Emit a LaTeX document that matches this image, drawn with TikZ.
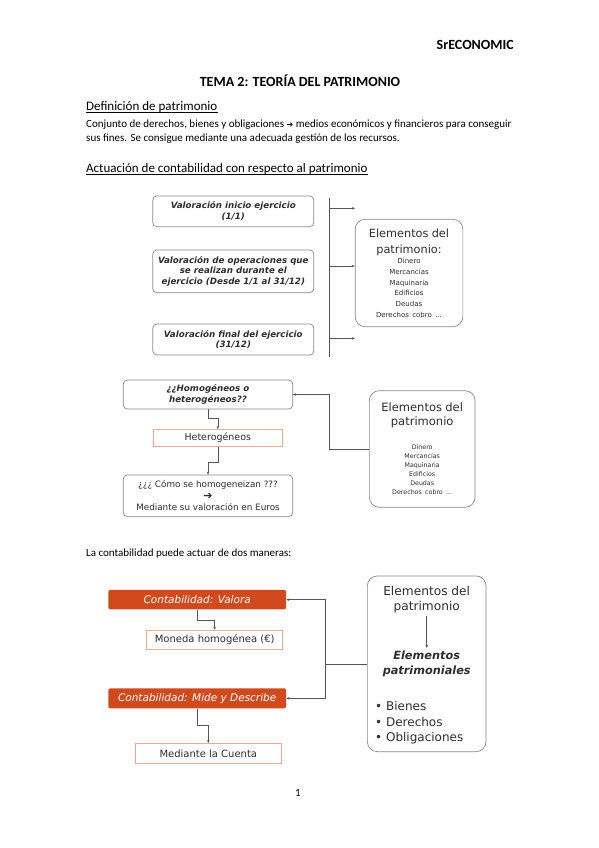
\documentclass[tikz,border=0pt]{standalone}
\usepackage{fontspec}
\setmainfont{Carlito}
\newfontfamily\diafont{DejaVu Sans}[ItalicFont={DejaVu Sans Oblique},BoldItalicFont={DejaVu Sans Bold Oblique}]
\usetikzlibrary{arrows.meta,calc}
\definecolor{lineg}{HTML}{555555}
\definecolor{boxg}{HTML}{8A8A8A}
\definecolor{txtg}{HTML}{2E2E2E}
\definecolor{naranja}{HTML}{D14A1D}
\definecolor{salmon}{HTML}{EBAA95}
\newcommand{\fs}[2]{\fontsize{#1}{#2}\selectfont}
\begin{document}
\begin{tikzpicture}[x=1pt,y=-1pt,
  txt/.style={inner sep=0pt,text=black},
  conn/.style={draw=lineg,line width=0.6pt},
  tip/.style={-{Stealth[length=3pt,width=2.5pt]}},
  vbox/.style={draw=boxg,line width=0.7pt,rounded corners=4pt,fill=white,text=txtg,align=center,inner sep=0pt,minimum width=161pt,font=\diafont\bfseries\itshape\fs{8.7}{10.5}},
  ebox/.style={draw=boxg,line width=0.7pt,rounded corners=10pt,fill=white,text=txtg,inner sep=0pt,align=center,font=\diafont},
  pbox/.style={draw=salmon,line width=0.6pt,fill=white,text=txtg,inner sep=0pt,font=\diafont\fs{10}{12}},
  obox/.style={fill=naranja,rounded corners=2pt,text=white,inner sep=0pt,minimum width=177.7pt,minimum height=19.5pt,font=\diafont\itshape\fs{10.5}{12}},
  ]
\useasboundingbox[fill=white] (0,0) rectangle (599,848);
% page text
\node[txt,anchor=base east,font=\bfseries\fs{14}{16}] (marca) at (514,50) {SrECONOMIC};
\node[txt,anchor=base,font=\bfseries\fs{14}{16}] (tema) at (300,87) {TEMA 2: TEORÍA DEL PATRIMONIO};
\node[txt,anchor=base west,font=\fs{13}{15}] (def) at (86,110.5) {Definición de patrimonio};
\draw[line width=0.5pt] ($(def.base west)+(0,2)$) -- ($(def.base east)+(0,2)$);
\node[txt,anchor=base west,font=\fs{11}{13}] (cuerpo1) at (86,127.5) {Conjunto de derechos, bienes y obligaciones {\diafont\fs{8}{8}➔} medios económicos y financieros para conseguir};
\node[txt,anchor=base west,font=\fs{11}{13}] (cuerpo2) at (86,142) {sus fines. Se consigue mediante una adecuada gestión de los recursos.};
\node[txt,anchor=base west,font=\fs{13}{15}] (act) at (86,172) {Actuación de contabilidad con respecto al patrimonio};
\draw[line width=0.5pt] ($(act.base west)+(0,2)$) -- ($(act.base east)+(0,2)$);
\node[txt,anchor=base west,font=\fs{11}{13}] (dos) at (86,556) {La contabilidad puede actuar de dos maneras:};
\node[txt,anchor=base,font=\fs{11}{13}] (pag) at (298,796) {1};
% diagrama 1
\node[vbox,minimum height=30.7pt] (v1) at (233.3,211.3) {Valoración inicio ejercicio\\(1/1)};
\node[vbox,minimum height=42.7pt] (v2) at (233.3,271.3) {Valoración de operaciones que\\se realizan durante el\\ejercicio (Desde 1/1 al 31/12)};
\node[vbox,minimum height=31pt] (v3) at (233.3,339.5) {Valoración final del ejercicio\\(31/12)};
\node[ebox,minimum width=107.7pt,minimum height=107.4pt,text width=107.7pt] (el1) at (409,273)
  {{\fs{11.3}{16}Elementos del\\patrimonio:\par}{\fs{7}{10.7}Dinero\\Mercancías\\Maquinaria\\Edificios\\Deudas\\Derechos cobro ...\par}};
\coordinate (bt) at (329,197.5);
\coordinate (bb) at (329,356.5);
\draw[conn] (bt) -- (bb);
\coordinate (s1) at (329,208.3);
\coordinate (s2) at (329,266);
\coordinate (s3) at (329,338.3);
\draw[conn,tip] (s1) -- ++(26,0);
\draw[conn,tip] (s2) -- (s2 -| el1.west);
\draw[conn,tip] (s3) -- ++(26,0);
% diagrama 2
\node[vbox,minimum width=169.4pt,minimum height=29pt] (hg) at (208,394.5) {¿¿Homogéneos o\\heterogéneos??};
\node[pbox,minimum width=129pt,minimum height=17.4pt,font=\diafont\fs{9.5}{11}] (het) at (217.8,438) {Heterogéneos};
\node[vbox,minimum width=169.4pt,minimum height=41.7pt,align=center,font=\diafont\fs{8.8}{11.7}] (hm) at (208,495.8) {¿¿¿ Cómo se homogeneizan ???\\{\fs{11}{11.7}➔}\\Mediante su valoración en Euros};
\node[ebox,minimum width=105.7pt,minimum height=116.6pt,text width=105.7pt] (el2) at (422.2,449)
  {{\fs{11.5}{13.5}Elementos del\\patrimonio\par}\vspace{15.6pt}{\fs{6.3}{9}Dinero\\Mercancías\\Maquinaria\\Edificios\\Deudas\\Derechos cobro ...\par}};
\draw[conn,tip] (hg.south) -- ++(0,8.7) -| (het.north);
\draw[conn,tip] (het.south) -- ++(0,15.6) -| (hm.north);
\draw[conn,tip] (el2.west) -- ++(-39.3,0) |- (hg.east);
% diagrama 3
\node[obox] (val) at (197.2,599.7) {Contabilidad: Valora};
\node[pbox,minimum width=136pt,minimum height=19pt] (mon) at (214.7,639.5) {Moneda homogénea (€)};
\node[obox,minimum height=20pt] (mid) at (197.2,698.3) {Contabilidad: Mide y Describe};
\node[pbox,minimum width=146.7pt,minimum height=20pt] (cue) at (208.3,753.3) {Mediante la Cuenta};
\node[ebox,minimum width=118.7pt,minimum height=175.7pt] (el3) at (426.7,663.8) {};
\node[txt,text=txtg,align=center,font=\diafont\fs{12.2}{15}] (el3a) at (426.7,600) {Elementos del\\patrimonio};
\node[txt,text=txtg,align=center,font=\diafont\bfseries\itshape\fs{11.3}{15}] (el3b) at (426.7,664) {Elementos\\patrimoniales};
\node[txt,text=txtg,align=left,anchor=north west,font=\diafont\fs{12}{15.8}] (el3c) at (375,701) {• Bienes\\• Derechos\\• Obligaciones};
\draw[conn,tip] (el3a.south) ++(0,2) -- ($(el3b.north)+(0,-3)$);
\draw[conn,tip] (val.south) -- ++(0,10.7) -| (mon.north);
\draw[conn,tip] (mid.south) -- ++(0,16.7) -| (cue.north);
\draw[conn] (el3.west) -- ++(-41.6,0) coordinate (j3);
\draw[conn,tip] (j3) |- (val.east);
\draw[conn,tip] (j3) |- (mid.east);
\end{tikzpicture}
\end{document}
